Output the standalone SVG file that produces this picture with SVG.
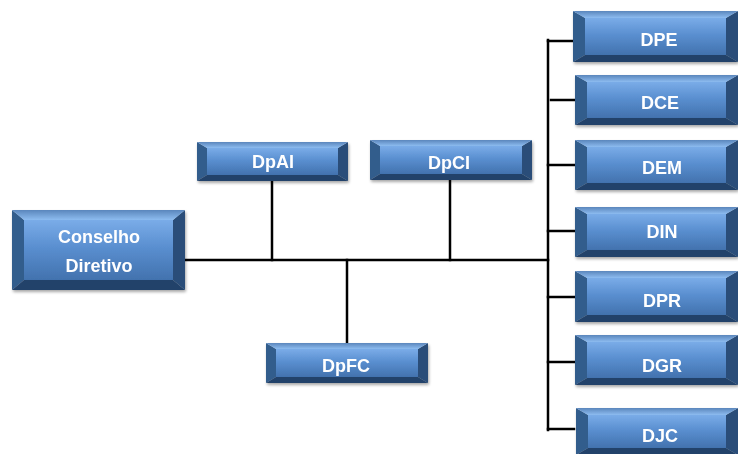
<svg xmlns="http://www.w3.org/2000/svg" width="738" height="454" viewBox="0 0 738 454">
<defs>
<linearGradient id="face" x1="0" y1="0" x2="0" y2="1">
<stop offset="0" stop-color="#7aace8"/><stop offset="0.45" stop-color="#5a8fd0"/><stop offset="1" stop-color="#4272ae"/>
</linearGradient>
<linearGradient id="topb" x1="0" y1="0" x2="0" y2="1">
<stop offset="0" stop-color="#5a86bc"/><stop offset="1" stop-color="#8dbcf0"/>
</linearGradient>
<filter id="sh" x="-10%" y="-10%" width="130%" height="140%"><feGaussianBlur in="SourceAlpha" stdDeviation="1.5"/><feOffset dx="1" dy="2"/><feComponentTransfer><feFuncA type="linear" slope="0.35"/></feComponentTransfer><feMerge><feMergeNode/><feMergeNode in="SourceGraphic"/></feMerge></filter>
</defs>
<style>
.c line{stroke:#000;stroke-width:2.5;stroke-linecap:square}
.f{fill:url(#face)}
.t{fill:url(#topb)}
.b{fill:#24436a}
.l{fill:#335d8c}
.r{fill:#2a4e79}
text{font-family:"Liberation Sans",Arial,sans-serif;font-weight:bold;font-size:18px;fill:#fff;text-anchor:middle}
</style>
<rect width="738" height="454" fill="#fff"/>
<g class="c" id="connectors">
<line x1="184" y1="260" x2="548" y2="260"/>
<line x1="548" y1="40" x2="548" y2="430"/>
<line x1="272" y1="181" x2="272" y2="260"/>
<line x1="450" y1="180" x2="450" y2="260"/>
<line x1="347" y1="260" x2="347" y2="343"/>
<line x1="548" y1="41" x2="574" y2="41"/>
<line x1="551" y1="100" x2="574" y2="100"/>
<line x1="548" y1="165" x2="574" y2="165"/>
<line x1="548" y1="231" x2="574" y2="231"/>
<line x1="548" y1="297" x2="574" y2="297"/>
<line x1="548" y1="362" x2="574" y2="362"/>
<line x1="548" y1="429" x2="574" y2="429"/>
</g>
<g id="conselho" filter="url(#sh)">
<polygon class="l" points="12,210 24,220 24,280 12,290"/>
<polygon class="r" points="185,210 173,220 173,280 185,290"/>
<polygon class="t" points="12,210 185,210 173,220 24,220"/>
<polygon class="b" points="12,290 185,290 173,280 24,280"/>
<rect class="f" x="24" y="220" width="149" height="60"/>
<text x="99" y="243">Conselho</text>
<text x="99" y="272">Diretivo</text>
</g>
<g id="dpai" filter="url(#sh)">
<polygon class="l" points="197,142 207,148 207,175 197,181"/>
<polygon class="r" points="348,142 338,148 338,175 348,181"/>
<polygon class="t" points="197,142 348,142 338,148 207,148"/>
<polygon class="b" points="197,181 348,181 338,175 207,175"/>
<rect class="f" x="207" y="148" width="131" height="27"/>
<text x="273" y="168">DpAI</text>
</g>
<g id="dpci" filter="url(#sh)">
<polygon class="l" points="370,140 380,146 380,174 370,180"/>
<polygon class="r" points="532,140 522,146 522,174 532,180"/>
<polygon class="t" points="370,140 532,140 522,146 380,146"/>
<polygon class="b" points="370,180 532,180 522,174 380,174"/>
<rect class="f" x="380" y="146" width="142" height="28"/>
<text x="449" y="169">DpCI</text>
</g>
<g id="dpfc" filter="url(#sh)">
<polygon class="l" points="266,343 276,349 276,377 266,383"/>
<polygon class="r" points="428,343 418,349 418,377 428,383"/>
<polygon class="t" points="266,343 428,343 418,349 276,349"/>
<polygon class="b" points="266,383 428,383 418,377 276,377"/>
<rect class="f" x="276" y="349" width="142" height="28"/>
<text x="346" y="372">DpFC</text>
</g>
<g id="dpe" filter="url(#sh)">
<polygon class="l" points="573,11 585,18 585,55 573,62"/>
<polygon class="r" points="738,11 726,18 726,55 738,62"/>
<polygon class="t" points="573,11 738,11 726,18 585,18"/>
<polygon class="b" points="573,62 738,62 726,55 585,55"/>
<rect class="f" x="585" y="18" width="141" height="37"/>
<text x="659" y="46">DPE</text>
</g>
<g id="dce" filter="url(#sh)">
<polygon class="l" points="575,75 587,82 587,118 575,125"/>
<polygon class="r" points="738,75 726,82 726,118 738,125"/>
<polygon class="t" points="575,75 738,75 726,82 587,82"/>
<polygon class="b" points="575,125 738,125 726,118 587,118"/>
<rect class="f" x="587" y="82" width="139" height="36"/>
<text x="660" y="109">DCE</text>
</g>
<g id="dem" filter="url(#sh)">
<polygon class="l" points="575,140 587,147 587,183 575,190"/>
<polygon class="r" points="738,140 726,147 726,183 738,190"/>
<polygon class="t" points="575,140 738,140 726,147 587,147"/>
<polygon class="b" points="575,190 738,190 726,183 587,183"/>
<rect class="f" x="587" y="147" width="139" height="36"/>
<text x="662" y="174">DEM</text>
</g>
<g id="din" filter="url(#sh)">
<polygon class="l" points="575,207 587,214 587,250 575,257"/>
<polygon class="r" points="738,207 726,214 726,250 738,257"/>
<polygon class="t" points="575,207 738,207 726,214 587,214"/>
<polygon class="b" points="575,257 738,257 726,250 587,250"/>
<rect class="f" x="587" y="214" width="139" height="36"/>
<text x="662" y="238">DIN</text>
</g>
<g id="dpr" filter="url(#sh)">
<polygon class="l" points="575,271 587,278 587,315 575,322"/>
<polygon class="r" points="738,271 726,278 726,315 738,322"/>
<polygon class="t" points="575,271 738,271 726,278 587,278"/>
<polygon class="b" points="575,322 738,322 726,315 587,315"/>
<rect class="f" x="587" y="278" width="139" height="37"/>
<text x="662" y="307">DPR</text>
</g>
<g id="dgr" filter="url(#sh)">
<polygon class="l" points="575,335 587,342 587,378 575,385"/>
<polygon class="r" points="738,335 726,342 726,378 738,385"/>
<polygon class="t" points="575,335 738,335 726,342 587,342"/>
<polygon class="b" points="575,385 738,385 726,378 587,378"/>
<rect class="f" x="587" y="342" width="139" height="36"/>
<text x="662" y="372">DGR</text>
</g>
<g id="djc" filter="url(#sh)">
<polygon class="l" points="576,408 588,415 588,448 576,455"/>
<polygon class="r" points="738,408 726,415 726,448 738,455"/>
<polygon class="t" points="576,408 738,408 726,415 588,415"/>
<polygon class="b" points="576,455 738,455 726,448 588,448"/>
<rect class="f" x="588" y="415" width="138" height="33"/>
<text x="660" y="442">DJC</text>
</g>
</svg>
